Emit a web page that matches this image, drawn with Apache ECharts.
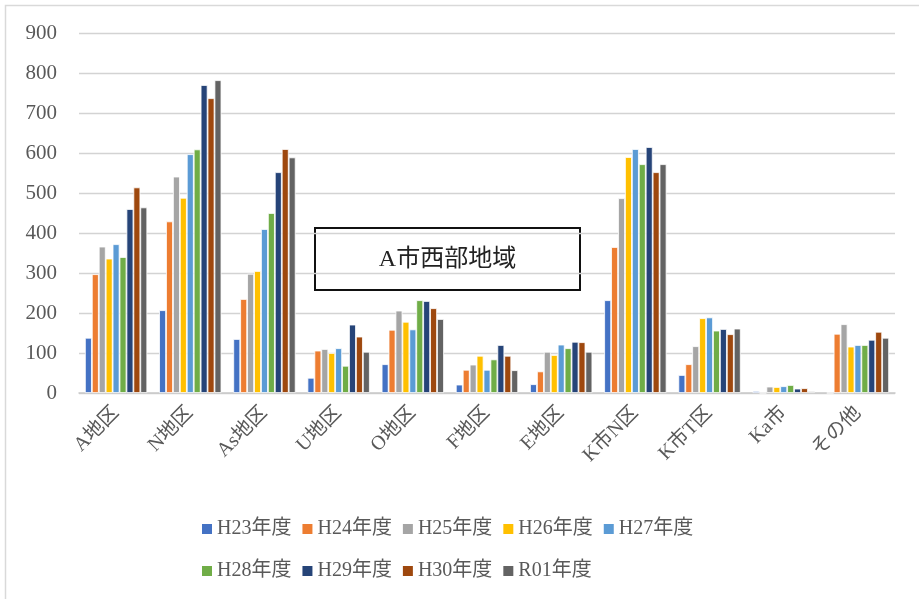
<!DOCTYPE html>
<html>
<head>
<meta charset="utf-8">
<script src="https://cdn.jsdelivr.net/npm/echarts@6/dist/echarts.min.js"></script>
<style>
  html, body { margin: 0; padding: 0; background: #fff; }
  #chart { width: 919px; height: 599px; }
</style>
</head>
<body>
<div id="chart"></div>
<script>
// 地区別の年度推移
const categories = ['A地区', 'N地区', 'As地区', 'U地区', 'O地区', 'F地区', 'E地区', 'K市N区', 'K市T区', 'Ka市', 'その他'];
const seriesNames = ['H23年度', 'H24年度', 'H25年度', 'H26年度', 'H27年度', 'H28年度', 'H29年度', 'H30年度', 'R01年度'];
const yTicks = [0, 100, 200, 300, 400, 500, 600, 700, 800, 900];

const h23 = [138, 207, 135, 38, 72, 21, 22, 232, 45, 5, 0];
const h24 = [297, 429, 235, 106, 158, 58, 54, 365, 72, 0, 148];
const h25 = [366, 541, 298, 110, 206, 71, 103, 487, 117, 16, 172];
const h26 = [336, 488, 305, 100, 178, 93, 95, 590, 187, 15, 116];
const h27 = [372, 597, 410, 112, 159, 58, 121, 610, 189, 17, 120];
const h28 = [340, 609, 450, 68, 232, 84, 112, 572, 156, 20, 120];
const h29 = [460, 770, 552, 171, 230, 120, 128, 615, 160, 11, 133];
const h30 = [514, 737, 610, 141, 212, 93, 127, 552, 147, 12, 153];
const r01 = [464, 782, 589, 103, 185, 57, 103, 572, 161, 4, 138];

const values = [h23, h24, h25, h26, h27, h28, h29, h30, r01];
const colors = ['#4472C4', '#ED7D31', '#A5A5A5', '#FFC000', '#5B9BD5', '#70AD47', '#264478', '#9E480E', '#636363'];

const FONT = "'Liberation Serif', 'Noto Sans CJK JP', serif";
const TEXT = '#595959';

const legendBase = {
  left: 195,
  itemWidth: 12,
  itemHeight: 12,
  itemGap: 9,
  icon: 'rect',
  orient: 'horizontal',
  textStyle: { fontSize: 20, fontFamily: FONT, color: TEXT, padding: [0, 0, 0, -1] }
};

const chart = echarts.init(document.getElementById('chart'), null, { renderer: 'canvas' });

chart.setOption({
  backgroundColor: '#ffffff',
  animation: false,
  color: colors,
  textStyle: { fontFamily: FONT, color: TEXT },
  grid: { left: 79, right: 24, top: 33, bottom: 206, containLabel: false },
  xAxis: {
    type: 'category',
    data: categories,
    axisLine: { show: true, lineStyle: { color: '#c9c9c9', width: 1.5 } },
    axisTick: { show: false },
    axisLabel: {
      rotate: 45,
      interval: 0,
      fontSize: 20,
      fontFamily: FONT,
      color: TEXT,
      margin: 17
    }
  },
  yAxis: {
    type: 'value',
    min: yTicks[0],
    max: yTicks[yTicks.length - 1],
    interval: 100,
    axisLine: { show: false },
    axisTick: { show: false },
    splitLine: { lineStyle: { color: '#d3d3d3', width: 1.3 } },
    axisLabel: {
      fontSize: 21,
      fontFamily: FONT,
      color: TEXT,
      margin: 22
    }
  },
  legend: [
    Object.assign({}, legendBase, { top: 514, data: seriesNames.slice(0, 5) }),
    Object.assign({}, legendBase, { top: 556, data: seriesNames.slice(5) })
  ],
  series: seriesNames.map((name, i) => ({
    name: name,
    type: 'bar',
    data: values[i],
    barGap: '0%',
    barCategoryGap: '16%',
    itemStyle: { color: colors[i], borderColor: '#ffffff', borderWidth: 0.8 }
  })),
  graphic: [
    {
      type: 'rect',
      shape: { x: 5.5, y: 5.5, width: 1000, height: 1000 },
      style: { fill: 'none', stroke: '#d9d9d9', lineWidth: 1.5 },
      silent: true
    },
    {
      type: 'group',
      left: 314,
      top: 227,
      children: [
        {
          type: 'rect',
          shape: { x: 0, y: 0, width: 265, height: 62 },
          style: { fill: '#ffffff', stroke: '#111111', lineWidth: 2 }
        },
        {
          type: 'text',
          x: 132.5,
          y: 32,
          style: {
            text: 'A市西部地域',
            fontSize: 24,
            fontFamily: FONT,
            fill: '#222222',
            align: 'center',
            verticalAlign: 'middle'
          }
        }
      ]
    }
  ]
});
</script>
</body>
</html>
